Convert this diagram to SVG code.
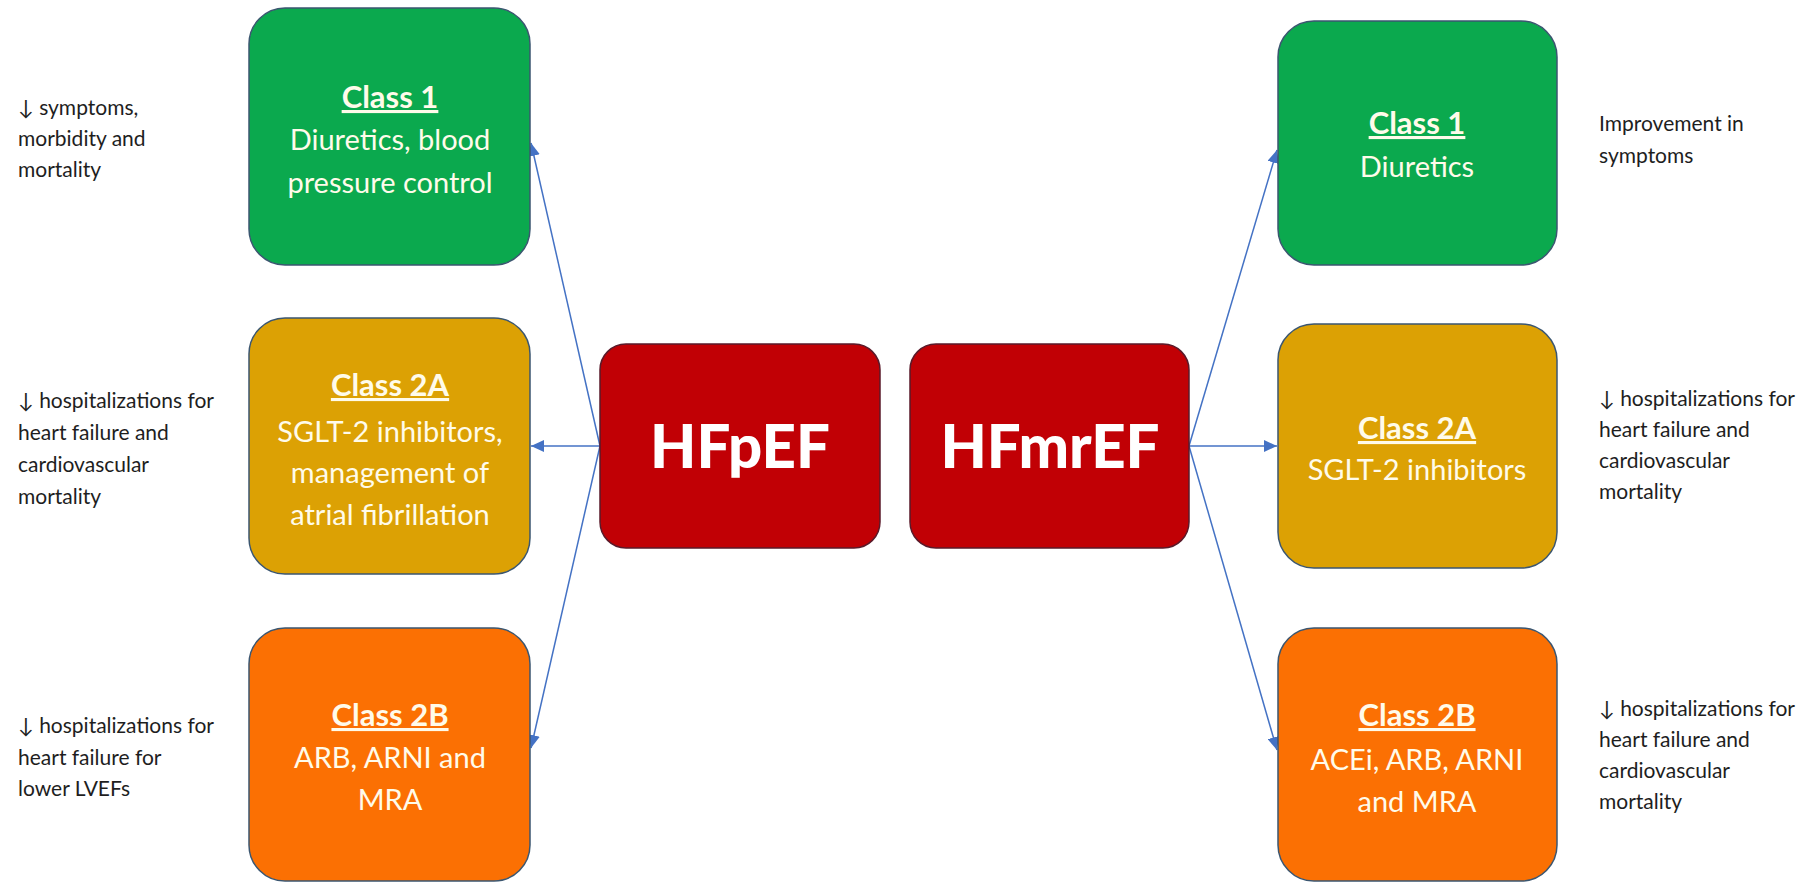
<svg xmlns="http://www.w3.org/2000/svg" width="1806" height="885" viewBox="0 0 1806 885">
  <defs>
    <marker id="arrow" markerUnits="userSpaceOnUse" markerWidth="14" markerHeight="12" refX="13" refY="6" orient="auto">
      <path d="M0,0 L13,6 L0,12 Z" fill="#4472C4"/>
    </marker>
    <style>
      .box { stroke: #3b5670; stroke-width: 1.5; }
      .green { fill: #0BA94E; }
      .gold { fill: #DCA104; }
      .orange { fill: #FB7003; }
      .red { fill: #C10005; stroke: #5a1a2a; stroke-width: 1.5; }
      .head { font-family: Lato, "Open Sans", "Liberation Sans", sans-serif; font-weight: 700; font-size: 31px; fill: #FFFBEA; text-anchor: middle; text-decoration: underline; }
      .body { font-family: Lato, "Open Sans", "Liberation Sans", sans-serif; font-size: 29px; fill: #FFFBEA; text-anchor: middle; }
      .big { font-family: Lato, "Open Sans", "Liberation Sans", sans-serif; font-weight: 900; font-size: 60px; fill: #FFFFFF; text-anchor: middle; }
      .note { font-family: Lato, "Open Sans", "Liberation Sans", sans-serif; font-size: 21px; fill: #1e1e1e; }
      .link { stroke: #4472C4; stroke-width: 1.5; fill: none; marker-end: url(#arrow); }
    </style>
  </defs>
  <rect width="1806" height="885" fill="#FFFFFF"/>

  <!-- connectors -->
  <g id="connectors">
    <line class="link" x1="600" y1="446" x2="531" y2="143"/>
    <line class="link" x1="600" y1="446" x2="531" y2="446"/>
    <line class="link" x1="600" y1="446" x2="531" y2="748"/>
    <line class="link" x1="1189" y1="446" x2="1277" y2="150"/>
    <line class="link" x1="1189" y1="446" x2="1277" y2="446"/>
    <line class="link" x1="1189" y1="446" x2="1277" y2="750"/>
  </g>

  <!-- left column: HFpEF -->
  <g id="hfpef-class1">
    <rect class="box green" x="249" y="8" width="281" height="257" rx="36"/>
    <text class="head" x="390" y="108">Class 1</text>
    <text class="body" x="390" y="150">Diuretics, blood</text>
    <text class="body" x="390" y="193">pressure control</text>
  </g>
  <g id="hfpef-class2a">
    <rect class="box gold" x="249" y="318" width="281" height="256" rx="36"/>
    <text class="head" x="390" y="396">Class 2A</text>
    <text class="body" x="390" y="442">SGLT-2 inhibitors,</text>
    <text class="body" x="390" y="483">management of</text>
    <text class="body" x="390" y="525">atrial fibrillation</text>
  </g>
  <g id="hfpef-class2b">
    <rect class="box orange" x="249" y="628" width="281" height="253" rx="36"/>
    <text class="head" x="390" y="726">Class 2B</text>
    <text class="body" x="390" y="768">ARB, ARNI and</text>
    <text class="body" x="390" y="810">MRA</text>
  </g>

  <!-- centre nodes -->
  <g id="hfpef">
    <rect class="red" x="600" y="344" width="280" height="204" rx="26"/>
    <text class="big" x="740" y="468">HFpEF</text>
  </g>
  <g id="hfmref">
    <rect class="red" x="910" y="344" width="279" height="204" rx="26"/>
    <text class="big" x="1050" y="468">HFmrEF</text>
  </g>

  <!-- right column: HFmrEF -->
  <g id="hfmref-class1">
    <rect class="box green" x="1278" y="21" width="279" height="244" rx="36"/>
    <text class="head" x="1417" y="134">Class 1</text>
    <text class="body" x="1417" y="177">Diuretics</text>
  </g>
  <g id="hfmref-class2a">
    <rect class="box gold" x="1278" y="324" width="279" height="244" rx="36"/>
    <text class="head" x="1417" y="439">Class 2A</text>
    <text class="body" x="1417" y="480">SGLT-2 inhibitors</text>
  </g>
  <g id="hfmref-class2b">
    <rect class="box orange" x="1278" y="628" width="279" height="253" rx="36"/>
    <text class="head" x="1417" y="726">Class 2B</text>
    <text class="body" x="1417" y="770">ACEi, ARB, ARNI</text>
    <text class="body" x="1417" y="812">and MRA</text>
  </g>

  <!-- outcome notes -->
  <g id="note-left-1">
    <text class="note" x="18" y="115">↓ symptoms,</text>
    <text class="note" x="18" y="146">morbidity and</text>
    <text class="note" x="18" y="177">mortality</text>
  </g>
  <g id="note-left-2a">
    <text class="note" x="18" y="408">↓ hospitalizations for</text>
    <text class="note" x="18" y="440">heart failure and</text>
    <text class="note" x="18" y="472">cardiovascular</text>
    <text class="note" x="18" y="504">mortality</text>
  </g>
  <g id="note-left-2b">
    <text class="note" x="18" y="733">↓ hospitalizations for</text>
    <text class="note" x="18" y="765">heart failure for</text>
    <text class="note" x="18" y="796">lower LVEFs</text>
  </g>
  <g id="note-right-1">
    <text class="note" x="1599" y="131">Improvement in</text>
    <text class="note" x="1599" y="163">symptoms</text>
  </g>
  <g id="note-right-2a">
    <text class="note" x="1599" y="406">↓ hospitalizations for</text>
    <text class="note" x="1599" y="437">heart failure and</text>
    <text class="note" x="1599" y="468">cardiovascular</text>
    <text class="note" x="1599" y="499">mortality</text>
  </g>
  <g id="note-right-2b">
    <text class="note" x="1599" y="716">↓ hospitalizations for</text>
    <text class="note" x="1599" y="747">heart failure and</text>
    <text class="note" x="1599" y="778">cardiovascular</text>
    <text class="note" x="1599" y="809">mortality</text>
  </g>
</svg>
